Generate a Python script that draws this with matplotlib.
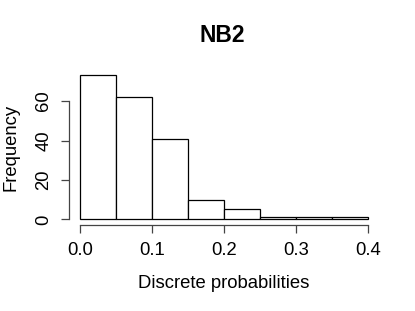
import numpy as np
import matplotlib
matplotlib.use("Agg")
import matplotlib.pyplot as plt

# histogram of NB2 discrete probabilities (counts)
bin_edges = [0.0, 0.05, 0.10, 0.15, 0.20, 0.25, 0.30, 0.35, 0.40]
counts = [73, 62, 41, 10, 5, 1, 1, 1]
x_ticks = [0.0, 0.1, 0.2, 0.3, 0.4]
x_ticklabels = ["0.0", "0.1", "0.2", "0.3", "0.4"]
y_ticks = [0, 20, 40, 60]

plt.rcParams['font.family'] = ['Liberation Sans', 'DejaVu Sans']

W, H = 415, 311
fig = plt.figure(figsize=(W / 100, H / 100), dpi=100)
left, right, bottom, top = 68.8, 379.5, 225.1, 69.7
ax = fig.add_axes([left / W, (H - bottom) / H, (right - left) / W, (bottom - top) / H])

edges = np.array(bin_edges)
ax.bar(edges[:-1], counts, width=np.diff(edges), align='edge',
       color='white', edgecolor='black', linewidth=0.9)

# R style: extend range by 4%
xr = edges[-1] - edges[0]
ax.set_xlim(edges[0] - 0.04 * xr, edges[-1] + 0.04 * xr)
ym = max(counts)
ax.set_ylim(-0.04 * ym, ym * 1.04)

for s in ['top', 'right']:
    ax.spines[s].set_visible(False)
ax.spines['left'].set_bounds(0, 60)
ax.spines['bottom'].set_bounds(0, 0.4)
for s in ['left', 'bottom']:
    ax.spines[s].set_color('#444444')
    ax.spines[s].set_linewidth(0.9)

ax.set_xticks(x_ticks)
ax.set_xticklabels(x_ticklabels)
ax.set_yticks(y_ticks)
ax.set_yticklabels([str(v) for v in y_ticks], rotation=90, va='center')
ax.tick_params(axis='both', length=6, width=0.9, color='#444444', labelsize=13.3, pad=6)

fig.text(222 / W, 1 - 36 / H, "NB2", ha='center', va='center', fontsize=16.5, fontweight='bold')
fig.text(224 / W, 1 - 283 / H, "Discrete probabilities", ha='center', va='center', fontsize=13.3)
fig.text(11 / W, 1 - 147 / H, "Frequency", ha='center', va='center', rotation=90, fontsize=13.3)

fig.savefig("out.png", dpi=100)
